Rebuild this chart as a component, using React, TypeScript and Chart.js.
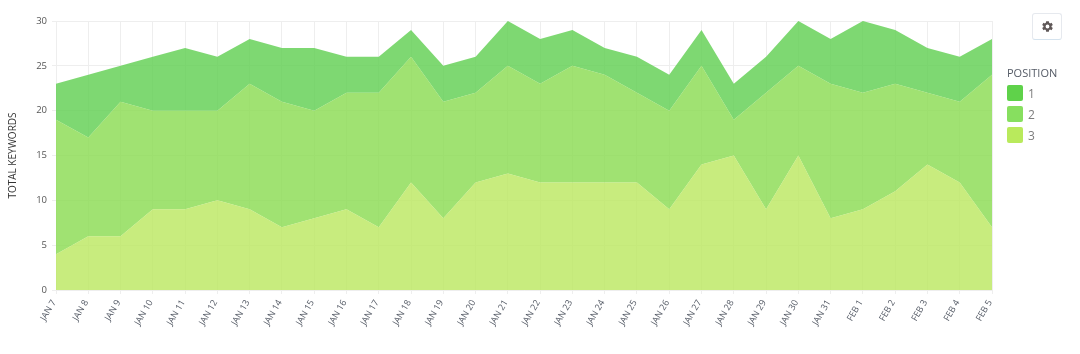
import React, { useEffect, useRef } from "react";
import { Chart, registerables } from "chart.js";

Chart.register(...registerables);

const categories = ["JAN 7","JAN 8","JAN 9","JAN 10","JAN 11","JAN 12","JAN 13","JAN 14","JAN 15","JAN 16","JAN 17","JAN 18","JAN 19","JAN 20","JAN 21","JAN 22","JAN 23","JAN 24","JAN 25","JAN 26","JAN 27","JAN 28","JAN 29","JAN 30","JAN 31","FEB 1","FEB 2","FEB 3","FEB 4","FEB 5"];
const position3 = [4,6,6,9,9,10,9,7,8,9,7,12,8,12,13,12,12,12,12,9,14,15,9,15,8,9,11,14,12,7];
const position2 = [15,11,15,11,11,10,14,14,12,13,15,14,13,10,12,11,13,12,10,11,11,4,13,10,15,13,12,8,9,17];
const position1 = [4,7,4,6,7,6,5,6,7,4,4,3,4,4,5,5,4,3,4,4,4,4,4,5,5,8,6,5,5,4];
const legendItems = [
  { label: "1", color: "#5fd24a" },
  { label: "2", color: "#87df5f" },
  { label: "3", color: "#b9ea5c" },
];
const yTicks = [0, 5, 10, 15, 20, 25, 30];
const FONT = '"Open Sans", sans-serif';

export default function App() {
  const ref = useRef<HTMLCanvasElement>(null);
  useEffect(() => {
    document.body.style.margin = "0";
    const chart = new Chart(ref.current!, {
      type: "line",
      data: {
        labels: categories,
        datasets: [
          { label: "3", data: position3, fill: "origin", backgroundColor: "rgba(186,231,94,0.8)", borderWidth: 0, pointRadius: 0, tension: 0 },
          { label: "2", data: position2, fill: "-1", backgroundColor: "rgba(136,219,79,0.8)", borderWidth: 0, pointRadius: 0, tension: 0 },
          { label: "1", data: position1, fill: "-1", backgroundColor: "rgba(94,206,79,0.8)", borderWidth: 0, pointRadius: 0, tension: 0 },
        ],
      },
      options: {
        animation: false,
        responsive: false,
        layout: { padding: { top: 21, right: 88, left: 7, bottom: 0 } },
        plugins: { legend: { display: false }, tooltip: { enabled: false } },
        scales: {
          x: {
            offset: false,
            grid: { color: "#eeeeee", lineWidth: 1, drawTicks: true, tickLength: 4 },
            border: { color: "#eeeeee" },
            afterFit: (s: any) => { s.height = 64; },
            ticks: {
              autoSkip: false,
              minRotation: 60,
              maxRotation: 60,
              padding: 4,
              labelOffset: -2,
              color: "#555b66",
              font: { family: FONT, size: 9 },
            },
          },
          y: {
            stacked: true,
            min: 0,
            max: 30,
            afterFit: (s: any) => { s.width = 49; },
            afterBuildTicks: (s: any) => { s.ticks = yTicks.map((value) => ({ value })); },
            grid: { color: "#eeeeee", lineWidth: 1, tickLength: 4 },
            border: { color: "#eeeeee" },
            title: { display: true, text: "TOTAL KEYWORDS", color: "#333333", font: { family: FONT, size: 10 }, padding: 0 },
            ticks: { padding: 5, color: "#555555", font: { family: FONT, size: 9.5 } },
          },
        },
      },
    });
    return () => chart.destroy();
  }, []);

  return (
    <div style={{ position: "relative", width: 1080, height: 354, overflow: "hidden", background: "#fff", fontFamily: FONT }}>
      <canvas ref={ref} width={1080} height={354} style={{ display: "block" }} />
      <div style={{ position: "absolute", left: 1032, top: 13, width: 30, height: 27, border: "1px solid #e6e9ee", borderBottomColor: "#d5e3ee", borderRadius: 3, boxSizing: "border-box", display: "flex", alignItems: "center", justifyContent: "center" }}>
        <svg width="13" height="13" viewBox="0 0 24 24" fill="#5f5757">
          <path fillRule="evenodd" d="M19.4 13a7.6 7.6 0 0 0 0-2l2.4-1.8-2.3-4-2.8 1.1a7.6 7.6 0 0 0-1.7-1L14.5 2.3h-5l-.5 3a7.6 7.6 0 0 0-1.7 1L4.500 5.200l-2.300 4L4.600 11a7.600 7.600 0 0 0 0 2l-2.400 1.800 2.300 4 2.800-1.100a7.600 7.600 0 0 0 1.700 1l.5 3h5l.5-3a7.600 7.600 0 0 0 1.700-1l2.800 1.100 2.300-4zM12 15.500a3.500 3.500 0 1 1 0-7 3.500 3.500 0 0 1 0 7z" />
        </svg>
      </div>
      <div style={{ position: "absolute", left: 1007, top: 65, fontSize: 11, lineHeight: "16px", color: "#555b66" }}>POSITION</div>
      {legendItems.map((item, i) => (
        <div key={item.label} style={{ position: "absolute", left: 1007, top: 85 + i * 21, height: 16, display: "flex", alignItems: "center" }}>
          <span style={{ width: 16, height: 16, background: item.color, borderRadius: 2, display: "inline-block" }} />
          <span style={{ marginLeft: 5, fontSize: 12, color: "#7d7d7d" }}>{item.label}</span>
        </div>
      ))}
    </div>
  );
}
